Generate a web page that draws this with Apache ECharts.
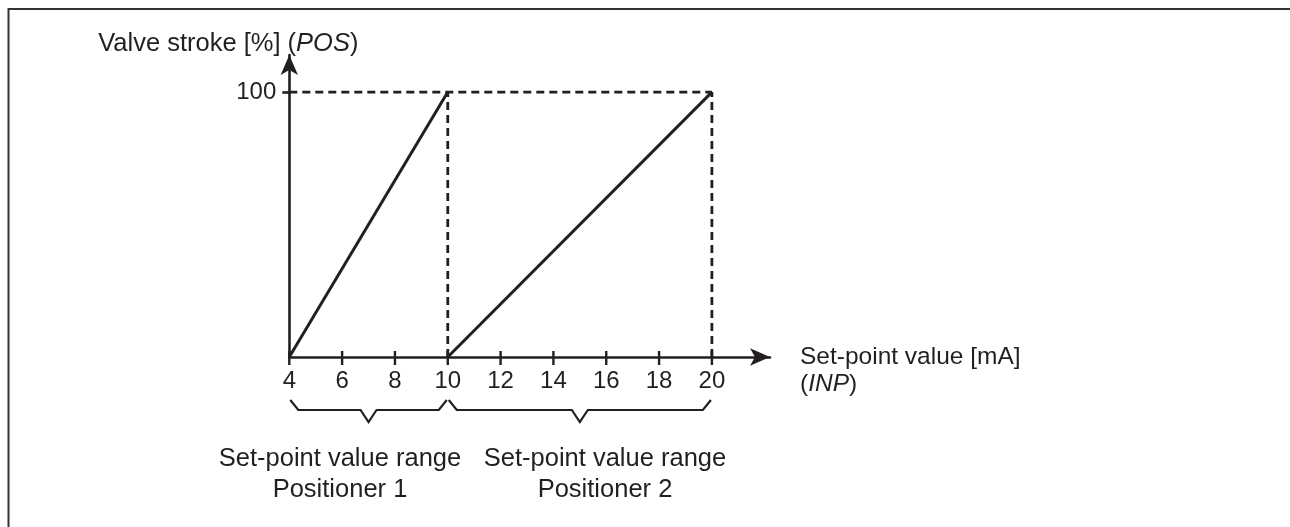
<!DOCTYPE html>
<html>
<head>
<meta charset="utf-8">
<script src="https://cdn.jsdelivr.net/npm/echarts@6/dist/echarts.min.js"></script>
<style>
html,body{margin:0;padding:0;background:#fff;}
#c{width:1290px;height:527px;}
</style>
</head>
<body>
<div id="c"></div>
<script>
// ---- data ----
const xTicks = [4, 6, 8, 10, 12, 14, 16, 18, 20];
const yTicks = [100];
const positioner1 = [[4, 0], [10, 100]];
const positioner2 = [[10, 0], [20, 100]];
const guideTop = [[4, 100], [20, 100]];
const guideMid = [[10, 0], [10, 100]];
const guideEnd = [[20, 0], [20, 100]];
const braceRanges = [[4, 10], [10, 20]];
const braceLabels = ['Set-point value range\nPositioner 1', 'Set-point value range\nPositioner 2'];
const xName = 'Set-point value [mA]';
const xNameItalic = 'INP';
const yName = 'Valve stroke [%] ';
const yNameItalic = 'POS';

const INK = '#231f20';
const FONT = '"Liberation Sans", Arial, Helvetica, sans-serif';
const FS = 25.5;
const XFS = 24.5;
const TFS = 24;

const chart = echarts.init(document.getElementById('c'), null, {renderer: 'canvas'});

function dashed(data) {
  return {
    type: 'line', data: data, symbol: 'none', silent: true, z: 2,
    lineStyle: {color: INK, width: 2.8, type: [8, 5]}
  };
}
function solid(data) {
  return {
    type: 'line', data: data, symbol: 'none', silent: true, z: 3,
    lineStyle: {color: INK, width: 3}
  };
}

const option = {
  backgroundColor: '#fff',
  animation: false,
  textStyle: {fontFamily: FONT, color: INK},
  grid: {left: 289.3, right: 520, top: 55, bottom: 170, containLabel: false},
  xAxis: {
    type: 'value', min: 4, max: 22.2,
    name: '{a|' + xName + '}\n{a|(}{i|' + xNameItalic + '}{a|)}',
    nameLocation: 'end', nameGap: 30,
    nameTextStyle: {
      align: 'left', verticalAlign: 'middle', padding: [27, 0, 0, 0],
      rich: {
        a: {fontFamily: FONT, fontSize: XFS, color: INK, lineHeight: 27},
        i: {fontFamily: FONT, fontSize: XFS, color: INK, lineHeight: 27, fontStyle: 'italic'}
      }
    },
    axisLine: {show: true, lineStyle: {color: INK, width: 2.6}, symbol: ['none', 'arrow'], symbolSize: [13, 20]},
    axisTick: {show: false},
    axisLabel: {customValues: xTicks, fontFamily: FONT, fontSize: TFS, color: INK, margin: 12},
    splitLine: {show: false}
  },
  yAxis: {
    type: 'value', min: 0, max: 114,
    name: '{a|' + yName + '(}{i|' + yNameItalic + '}{a|)}',
    nameLocation: 'end', nameGap: -2,
    nameTextStyle: {
      align: 'center', padding: [0, 122, 0, 0],
      rich: {
        a: {fontFamily: FONT, fontSize: FS, color: INK, lineHeight: 27},
        i: {fontFamily: FONT, fontSize: FS, color: INK, lineHeight: 27, fontStyle: 'italic'}
      }
    },
    axisLine: {show: true, lineStyle: {color: INK, width: 2.6}, symbol: ['none', 'arrow'], symbolSize: [13, 20]},
    axisTick: {show: true, customValues: yTicks, length: 7, lineStyle: {color: INK, width: 2.6}},
    axisLabel: {customValues: yTicks, fontFamily: FONT, fontSize: TFS, color: INK, margin: 13},
    splitLine: {show: false}
  },
  graphic: [
    {type: 'rect', shape: {x: 8.5, y: 9, width: 1400, height: 700},
     style: {fill: 'none', stroke: '#333', lineWidth: 2}, silent: true},
    {type: 'text', x: 340, y: 474, style: {text: braceLabels[0], font: FS + 'px ' + FONT, fill: INK,
      align: 'center', verticalAlign: 'middle', lineHeight: 31}},
    {type: 'text', x: 605, y: 474, style: {text: braceLabels[1], font: FS + 'px ' + FONT, fill: INK,
      align: 'center', verticalAlign: 'middle', lineHeight: 31}}
  ],
  series: [
    dashed(guideTop),
    dashed(guideMid),
    dashed(guideEnd),
    solid(positioner1),
    solid(positioner2),
    {
      type: 'custom', silent: true, z: 4, clip: false,
      data: xTicks.map(v => [v]),
      renderItem: function (params, api) {
        const p = api.coord([api.value(0), 0]);
        return {type: 'line', shape: {x1: p[0], y1: p[1] - 6, x2: p[0], y2: p[1] + 8},
          style: {stroke: INK, lineWidth: 2.4}};
      }
    },
    {
      type: 'custom', silent: true, z: 4, clip: false,
      data: braceRanges,
      renderItem: function (params, api) {
        const a = api.coord([api.value(0), 0]);
        const b = api.coord([api.value(1), 0]);
        const y0 = a[1];
        const top = y0 + 43, mid = y0 + 53, tip = y0 + 65;
        const x0 = a[0] + 1, x1 = b[0] - 1, m = (x0 + x1) / 2;
        return {type: 'polyline', shape: {points: [
          [x0, top], [x0 + 8, mid], [m - 8, mid], [m, tip], [m + 8, mid], [x1 - 8, mid], [x1, top]
        ]}, style: {stroke: INK, lineWidth: 2.2, fill: 'none'}};
      }
    }
  ]
};
chart.setOption(option);
</script>
</body>
</html>
